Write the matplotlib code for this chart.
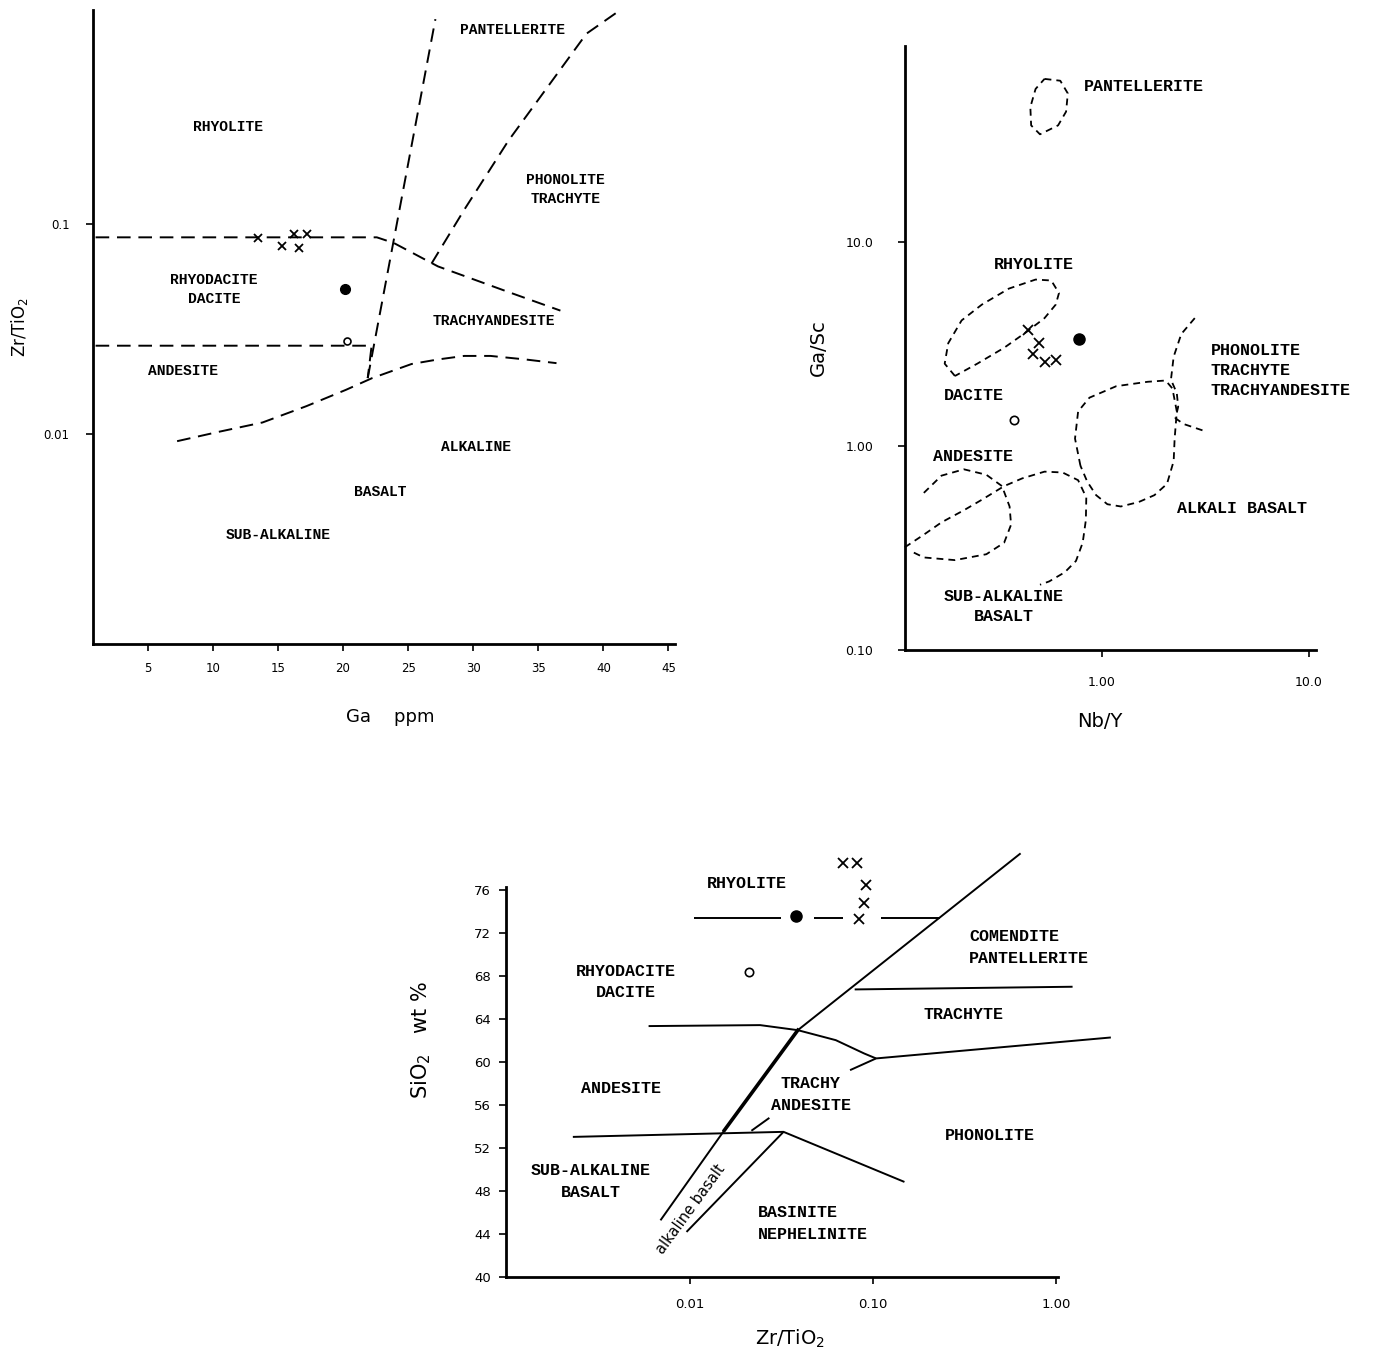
import matplotlib.pyplot as plt
from matplotlib.ticker import NullLocator

LAB = ["Liberation Mono", "DejaVu Sans Mono"]

# ---------------- diagram 1 : Zr/TiO2 vs Ga ppm ----------------
ga_upper_x = [1.0, 22.6, 23.9, 27.3, 32.7, 36.7]
ga_upper_y = [0.0867, 0.0867, 0.0815, 0.063, 0.0476, 0.0388]
ga_lower_x = [1.0, 22.2, 21.9]
ga_lower_y = [0.0264, 0.0264, 0.0185]
ga_steep_x = [21.9, 27.1]
ga_steep_y = [0.0185, 0.95]
ga_phon_x = [26.8, 29.3, 32.7, 38.7, 41.3]
ga_phon_y = [0.065, 0.117, 0.25, 0.81, 1.05]
ga_alk_x = [7.26, 10.45, 13.82, 17.19, 20.22, 22.24, 25.27, 27.29, 29.31, 31.33, 34.02, 36.4]
ga_alk_y = [0.00926, 0.01026, 0.01137, 0.0136, 0.01626, 0.0185, 0.0216, 0.0227, 0.0236, 0.0236, 0.0227, 0.0218]

ga_cross_x = [13.5, 15.3, 16.25, 17.2, 16.6]
ga_cross_y = [0.0858, 0.0787, 0.0903, 0.0903, 0.0774]
ga_dot = (20.15, 0.0494)
ga_ring = (20.3, 0.0278)

ga_ticks = [5, 10, 15, 20, 25, 30, 35, 40, 45]
ga_yticks = [0.01, 0.1]
ga_yticklabels = ["0.01", "0.1"]

ga_fields = [
    ("RHYOLITE", 11.2, 0.29),
    ("PANTELLERITE", 33.0, 0.84),
    ("PHONOLITE\nTRACHYTE", 37.1, 0.146),
    ("RHYODACITE\nDACITE", 10.1, 0.049),
    ("TRACHYANDESITE", 31.6, 0.0347),
    ("ANDESITE", 7.7, 0.0199),
    ("ALKALINE", 30.2, 0.0087),
    ("BASALT", 22.9, 0.0053),
    ("SUB-ALKALINE", 15.0, 0.0033),
]

# ---------------- diagram 2 : Ga/Sc vs Nb/Y ----------------
nb_pant_x = [0.528, 0.629, 0.684, 0.671, 0.614, 0.502, 0.455, 0.451, 0.478, 0.528]
nb_pant_y = [63.4, 62.1, 53.8, 43.8, 37.5, 33.9, 37.5, 46.1, 56.6, 63.4]
nb_rhy_x = [0.195, 0.174, 0.181, 0.210, 0.263, 0.355, 0.478, 0.569, 0.620, 0.598, 0.528, 0.433, 0.337, 0.250, 0.195]
nb_rhy_y = [2.21, 2.54, 3.20, 4.14, 4.95, 5.93, 6.57, 6.50, 5.64, 4.95, 4.25, 3.64, 3.04, 2.54, 2.21]
nb_and_x = [0.138, 0.168, 0.2155, 0.2765, 0.329, 0.358, 0.364, 0.337, 0.2765, 0.195, 0.138, 0.1214]
nb_and_y = [0.590, 0.717, 0.770, 0.724, 0.637, 0.506, 0.412, 0.336, 0.295, 0.276, 0.2845, 0.303]
nb_sub_x = [0.1116, 0.138, 0.168, 0.2155, 0.263, 0.337, 0.412, 0.528, 0.645, 0.767, 0.840, 0.836, 0.807, 0.749, 0.661, 0.556, 0.502]
nb_sub_y = [0.319, 0.368, 0.423, 0.485, 0.546, 0.637, 0.695, 0.750, 0.743, 0.681, 0.560, 0.434, 0.336, 0.2735, 0.2405, 0.217, 0.209]
nb_alk_x = [0.787, 0.741, 0.767, 0.870, 1.173, 1.663, 2.029, 2.188, 2.298, 2.243, 2.219, 2.060, 1.791, 1.504, 1.233, 1.062, 0.937, 0.849, 0.787]
nb_alk_y = [0.802, 1.09, 1.48, 1.73, 1.97, 2.07, 2.10, 1.92, 1.48, 1.09, 0.845, 0.653, 0.575, 0.532, 0.506, 0.519, 0.575, 0.670, 0.802]
nb_phon_x = [2.806, 2.415, 2.219, 2.153, 2.298, 2.333, 2.265, 2.477, 3.178]
nb_phon_y = [4.25, 3.55, 2.75, 2.12, 1.82, 1.56, 1.37, 1.285, 1.18]

nb_cross_x = [0.437, 0.498, 0.466, 0.528, 0.598]
nb_cross_y = [3.73, 3.20, 2.82, 2.58, 2.64]
nb_dot = (0.771, 3.34)
nb_ring = (0.377, 1.34)

nb_xticks = [1.0, 10.0]
nb_xticklabels = ["1.00", "10.0"]
nb_yticks = [0.1, 1.0, 10.0]
nb_yticklabels = ["0.10", "1.00", "10.0"]

nb_fields = [
    ("PANTELLERITE", 0.82, 58.0, "left"),
    ("RHYOLITE", 0.471, 7.78, "center"),
    ("PHONOLITE\nTRACHYTE\nTRACHYANDESITE", 3.34, 2.35, "left"),
    ("DACITE", 0.242, 1.78, "center"),
    ("ANDESITE", 0.238, 0.889, "center"),
    ("ALKALI BASALT", 4.74, 0.493, "center"),
    ("SUB-ALKALINE\nBASALT", 0.337, 0.163, "center"),
]

# ---------------- diagram 3 : SiO2 vs Zr/TiO2 ----------------
si_rhy_y = 73.36
si_rhy_segments = [(0.0105, 0.0316), (0.0479, 0.0685), (0.110, 0.232)]
si_band_left_x = [0.00692, 0.01545]
si_band_left_y = [45.27, 53.65]
si_thick_x = [0.01545, 0.0389]
si_thick_y = [53.65, 62.96]
si_diag_x = [0.0389, 0.64]
si_diag_y = [62.96, 79.41]
si_band_right_x = [0.0096, 0.0325]
si_band_right_y = [44.19, 53.5]
si_tick_x = [0.0217, 0.0272]
si_tick_y = [53.6, 54.8]
si_base_x = [0.0023, 0.0325, 0.1486]
si_base_y = [53.03, 53.5, 48.84]
si_and_x = [0.00596, 0.0242, 0.0389, 0.0627, 0.0896, 0.104]
si_and_y = [63.34, 63.43, 62.96, 62.03, 60.79, 60.33]
si_phon_x = [0.075, 0.104, 1.99]
si_phon_y = [59.24, 60.33, 62.28]
si_com_x = [0.0795, 1.23]
si_com_y = [66.75, 67.0]

si_cross_x = [0.0685, 0.0818, 0.0912, 0.0892, 0.0844]
si_cross_y = [78.48, 78.48, 76.47, 74.82, 73.27]
si_dot = (0.0378, 73.58)
si_ring = (0.0210, 68.4)

si_yticks = [40, 44, 48, 52, 56, 60, 64, 68, 72, 76]
si_xticks = [0.01, 0.1, 1.0]
si_xticklabels = ["0.01", "0.10", "1.00"]

si_fields = [
    ("RHYOLITE", 0.0204, 76.56, "center"),
    ("COMENDITE\nPANTELLERITE", 0.336, 70.65, "left"),
    ("RHYODACITE\nDACITE", 0.0045, 67.45, "center"),
    ("TRACHYTE", 0.313, 64.45, "center"),
    ("ANDESITE", 0.00423, 57.53, "center"),
    ("TRACHY\nANDESITE", 0.0459, 57.0, "center"),
    ("PHONOLITE", 0.435, 53.19, "center"),
    ("SUB-ALKALINE\nBASALT", 0.00288, 48.9, "center"),
    ("BASINITE\nNEPHELINITE", 0.0235, 45.0, "left"),
]


def frame(ax, lw):
    for s in ("top", "right"):
        ax.spines[s].set_visible(False)
    for s in ("left", "bottom"):
        ax.spines[s].set_linewidth(lw)
    ax.xaxis.set_minor_locator(NullLocator())
    ax.yaxis.set_minor_locator(NullLocator())


def samples(ax, cx, cy, dot, ring, ms=7):
    ax.plot(cx, cy, "x", color="black", ms=ms, mew=1.3, clip_on=False)
    ax.plot(*dot, "o", color="black", ms=ms + 1, clip_on=False)
    ax.plot(*ring, "o", mfc="white", mec="black", ms=ms - 1, mew=1.2, clip_on=False)


fig = plt.figure(figsize=(13.86, 13.55), dpi=100)

# ---- diagram 1
ax1 = fig.add_axes([0.0671, 0.5247, 0.4199, 0.4679])
ax1.set_yscale("log")
ax1.set_xlim(0.8, 45.5)
ax1.set_ylim(0.001, 1.05)
frame(ax1, 2.0)
dash1 = (0, (7, 4))
for xs, ys in [(ga_upper_x, ga_upper_y), (ga_lower_x, ga_lower_y), (ga_steep_x, ga_steep_y),
               (ga_phon_x, ga_phon_y), (ga_alk_x, ga_alk_y)]:
    ax1.plot(xs, ys, color="black", lw=1.4, ls=dash1, clip_on=False)
samples(ax1, ga_cross_x, ga_cross_y, ga_dot, ga_ring, ms=6)
ax1.set_xticks(ga_ticks)
ax1.set_xticklabels([str(t) for t in ga_ticks], fontsize=8.5)
ax1.set_yticks(ga_yticks)
ax1.set_yticklabels(ga_yticklabels, fontsize=8.5)
ax1.tick_params(axis="x", length=5, width=1.2, pad=8)
ax1.tick_params(axis="y", length=5, width=1.2, pad=12)
for txt, x, y in ga_fields:
    ax1.text(x, y, txt, family=LAB, weight="bold", fontsize=10.5,
             ha="center", va="center", linespacing=1.45)
ax1.set_xlabel("Ga    ppm", fontsize=13)
ax1.xaxis.set_label_coords(0.51, -0.101)
ax1.set_ylabel("Zr/TiO$_2$", fontsize=12)
ax1.yaxis.set_label_coords(-0.108, 0.5)

# ---- diagram 2
ax2 = fig.add_axes([0.653, 0.5203, 0.2965, 0.4458])
ax2.set_xscale("log")
ax2.set_yscale("log")
ax2.set_xlim(0.112, 10.8)
ax2.set_ylim(0.1, 92)
frame(ax2, 2.0)
dash2 = (0, (3.8, 2.8))
for xs, ys in [(nb_pant_x, nb_pant_y), (nb_rhy_x, nb_rhy_y), (nb_and_x, nb_and_y),
               (nb_sub_x, nb_sub_y), (nb_alk_x, nb_alk_y), (nb_phon_x, nb_phon_y)]:
    ax2.plot(xs, ys, color="black", lw=1.3, ls=dash2, clip_on=False)
samples(ax2, nb_cross_x, nb_cross_y, nb_dot, nb_ring, ms=7)
ax2.set_xticks(nb_xticks)
ax2.set_xticklabels(nb_xticklabels, fontsize=9)
ax2.set_yticks(nb_yticks)
ax2.set_yticklabels(nb_yticklabels, fontsize=9)
ax2.tick_params(axis="x", length=5, width=1.2, pad=14)
ax2.tick_params(axis="y", length=5, width=1.2, pad=18)
for txt, x, y, ha in nb_fields:
    ax2.text(x, y, txt, family=LAB, weight="bold", fontsize=12,
             ha=ha, va="center", linespacing=1.45)
ax2.set_xlabel("Nb/Y", fontsize=14)
ax2.xaxis.set_label_coords(0.474, -0.103)
ax2.set_ylabel("Ga/Sc", fontsize=14)
ax2.yaxis.set_label_coords(-0.187, 0.5)

# ---- diagram 3
ax3 = fig.add_axes([0.3651, 0.0576, 0.3983, 0.3173])
ax3.set_xscale("log")
ax3.set_xlim(0.000993, 1.025)
ax3.set_ylim(40, 80)
frame(ax3, 2.0)
ax3.spines["left"].set_bounds(40, 76.3)
kw = dict(color="black", lw=1.4, clip_on=False, solid_capstyle="butt")
for x0, x1 in si_rhy_segments:
    ax3.plot([x0, x1], [si_rhy_y, si_rhy_y], **kw)
for xs, ys in [(si_band_left_x, si_band_left_y), (si_diag_x, si_diag_y),
               (si_band_right_x, si_band_right_y), (si_tick_x, si_tick_y),
               (si_base_x, si_base_y), (si_and_x, si_and_y),
               (si_phon_x, si_phon_y), (si_com_x, si_com_y)]:
    ax3.plot(xs, ys, **kw)
ax3.plot(si_thick_x, si_thick_y, color="black", lw=2.6, clip_on=False)
samples(ax3, si_cross_x, si_cross_y, si_dot, si_ring, ms=7)
ax3.set_xticks(si_xticks)
ax3.set_xticklabels(si_xticklabels, fontsize=9.5)
ax3.set_yticks(si_yticks)
ax3.set_yticklabels([str(t) for t in si_yticks], fontsize=9.5)
ax3.tick_params(axis="x", length=5, width=1.2, pad=10)
ax3.tick_params(axis="y", length=5, width=1.2, pad=6)
for txt, x, y, ha in si_fields:
    ax3.text(x, y, txt, family=LAB, weight="bold", fontsize=12,
             ha=ha, va="center", linespacing=1.55)
ax3.text(0.0101, 46.3, "alkaline basalt", fontsize=10.5, rotation=54,
         ha="center", va="center", rotation_mode="anchor")
ax3.set_xlabel("Zr/TiO$_2$", fontsize=14)
ax3.xaxis.set_label_coords(0.514, -0.119)
ax3.set_ylabel("SiO$_2$   wt %", fontsize=15)
ax3.yaxis.set_label_coords(-0.132, 0.55)

fig.savefig("out.png", dpi=100)
